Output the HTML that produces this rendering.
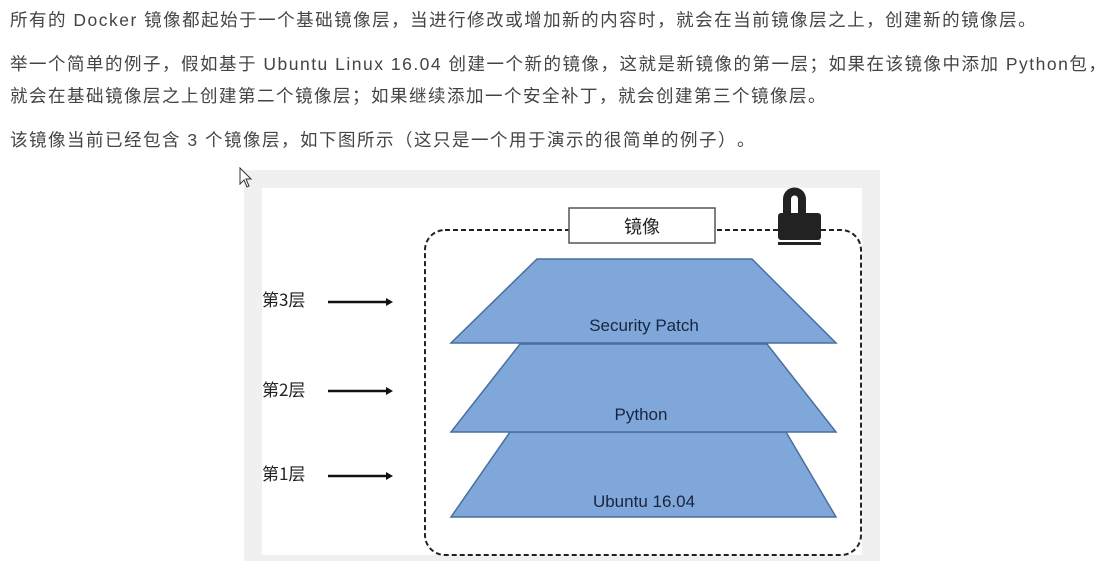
<!DOCTYPE html>
<html><head><meta charset="utf-8"><style>
body{margin:0;width:1113px;height:561px;background:#fff;overflow:hidden;position:relative;font-family:"Liberation Sans","Noto Sans CJK SC",sans-serif;color:#444;}
.t{position:absolute;left:10px;font-size:17.5px;letter-spacing:1.5px;white-space:nowrap;line-height:20px;text-spacing-trim:space-all;}
</style></head><body>
<div class="t" style="top:10px">所有的 Docker 镜像都起始于一个基础镜像层，当进行修改或增加新的内容时，就会在当前镜像层之上，创建新的镜像层。</div>
<div class="t" style="top:54px">举一个简单的例子，假如基于 Ubuntu Linux 16.04 创建一个新的镜像，这就是新镜像的第一层；如果在该镜像中添加 Python包，</div>
<div class="t" style="top:86px">就会在基础镜像层之上创建第二个镜像层；如果继续添加一个安全补丁，就会创建第三个镜像层。</div>
<div class="t" style="top:130px">该镜像当前已经包含 3 个镜像层，如下图所示（这只是一个用于演示的很简单的例子）。</div>
<svg width="1113" height="561" style="position:absolute;left:0;top:0">
<rect x="244" y="170" width="636" height="391" fill="#f0f0f0"/>
<rect x="262" y="188" width="600" height="367" fill="#fff"/>
<rect x="425" y="230" width="436" height="325" rx="20" fill="none" stroke="#222" stroke-width="2" stroke-dasharray="5,3"/>
<rect x="569" y="208" width="146" height="35" fill="#fff" stroke="#555" stroke-width="1.5"/>
<text x="642" y="233" font-size="18" text-anchor="middle" fill="#222" font-family="Noto Sans CJK SC,sans-serif">镜像</text>
<path d="M787 214 V199 a7.5 7.5 0 0 1 15 0 V214" fill="none" stroke="#222" stroke-width="8"/>
<rect x="778" y="213" width="43" height="27" rx="3" fill="#222"/>
<rect x="778" y="242" width="43" height="3" fill="#222"/>
<g fill="#7fa7d9" stroke="#4a6f9e" stroke-width="1.5">
<polygon points="510,432 786,432 836,517 451,517"/>
<polygon points="520,344 767,344 836,432 451,432"/>
<polygon points="537,259 752,259 836,343 451,343"/>
</g>
<g font-family="Liberation Sans,sans-serif" font-size="17" fill="#1a2540" text-anchor="middle">
<text x="644" y="331">Security Patch</text>
<text x="641" y="420">Python</text>
<text x="644" y="507">Ubuntu 16.04</text>
</g>
<g font-family="Noto Sans CJK SC,sans-serif" font-size="17" fill="#222">
<text x="262" y="306">第3层</text>
<text x="262" y="396">第2层</text>
<text x="262" y="480">第1层</text>
</g>
<g stroke="#111" stroke-width="2.5">
<line x1="328" y1="302" x2="388" y2="302"/>
<line x1="328" y1="391" x2="388" y2="391"/>
<line x1="328" y1="476" x2="388" y2="476"/>
</g>
<g fill="#111">
<polygon points="386,298 393,302 386,306"/>
<polygon points="386,387 393,391 386,395"/>
<polygon points="386,472 393,476 386,480"/>
</g>
<path d="M240 168 V184 L244 180 L247 187 L249 186 L246 179 L251 179 Z" fill="#fff" stroke="#333" stroke-width="1"/>
</svg>
</body></html>
